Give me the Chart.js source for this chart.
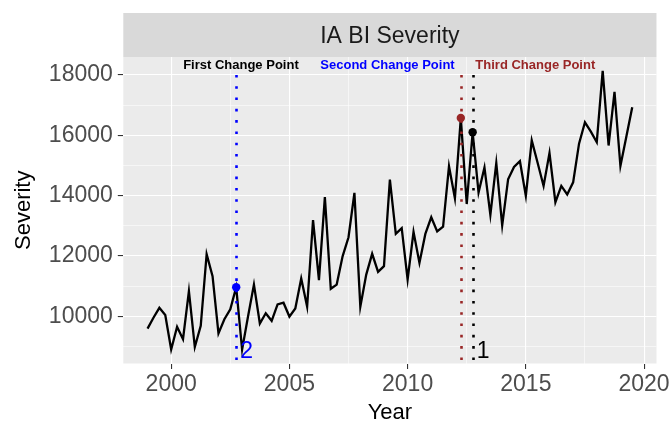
<!DOCTYPE html>
<html>
<head>
<meta charset="utf-8">
<script src="https://cdn.jsdelivr.net/npm/chart.js@4"></script>
<style>
  html, body { margin: 0; padding: 0; background: #ffffff; }
  #wrap { width: 672px; height: 426px; position: relative; }
</style>
</head>
<body>
<div id="wrap"><canvas id="chart"></canvas></div>
<script>
// quarterly IA BI severity
const years = [
  1999, 1999.25, 1999.5, 1999.75, 2000, 2000.25, 2000.5, 2000.75,
  2001, 2001.25, 2001.5, 2001.75, 2002, 2002.25, 2002.5, 2002.75,
  2003, 2003.25, 2003.5, 2003.75, 2004, 2004.25, 2004.5, 2004.75,
  2005, 2005.25, 2005.5, 2005.75, 2006, 2006.25, 2006.5, 2006.75,
  2007, 2007.25, 2007.5, 2007.75, 2008, 2008.25, 2008.5, 2008.75,
  2009, 2009.25, 2009.5, 2009.75, 2010, 2010.25, 2010.5, 2010.75,
  2011, 2011.25, 2011.5, 2011.75, 2012, 2012.25, 2012.5, 2012.75,
  2013, 2013.25, 2013.5, 2013.75, 2014, 2014.25, 2014.5, 2014.75,
  2015, 2015.25, 2015.5, 2015.75, 2016, 2016.25, 2016.5, 2016.75,
  2017, 2017.25, 2017.5, 2017.75, 2018, 2018.25, 2018.5, 2018.75,
  2019, 2019.25, 2019.5
];
const severity = [
  9590, 9950, 10280, 10040, 8900, 9650, 9240, 10830,
  8980, 9680, 12060, 11330, 9430, 9900, 10230, 10960,
  8895, 9990, 11050, 9760, 10100, 9850, 10395, 10450,
  9990, 10260, 11250, 10320, 13190, 11200, 13950, 10910,
  11050, 11985, 12620, 14090, 10320, 11380, 12070, 11470,
  11660, 14530, 12730, 12920, 11220, 12800, 11770, 12730,
  13280, 12810, 12970, 14970, 13910, 16570, 13720, 16100,
  14100, 14930, 13360, 15080, 13010, 14540, 14950, 15140,
  13990, 15830, 15080, 14320, 15410, 13780, 14320, 14040,
  14440, 15720, 16430, 16120, 15770, 18132, 15660, 17440,
  14980, 15950, 16925
];

// change points: first, second, third
const cpYears = [2012.75, 2002.75, 2012.25];
const cpValues = [16100, 10960, 16570];
const cpColors = ['#000000', '#0000ff', '#992626'];
const cpNumbers = ['1', '2', ''];
const cpTitles = ['First Change Point', 'Second Change Point', 'Third Change Point'];
const cpTitleX = [2002.95, 2009.15, 2015.4];
const cpTitleY = 18330;
const cpNumberY = 8865;
const vlineTop = 18000;

const xTicks = [2000, 2002.5, 2005, 2007.5, 2010, 2012.5, 2015, 2017.5, 2020];
const yTicks = [9000, 10000, 11000, 12000, 13000, 14000, 15000, 16000, 17000, 18000];

const FONT = '"Liberation Sans", Arial, sans-serif';

const ggPanel = {
  id: 'ggPanel',
  beforeDraw(chart) {
    const { ctx, chartArea: a } = chart;
    ctx.save();
    ctx.fillStyle = '#ebebeb';
    ctx.fillRect(a.left, a.top, a.right - a.left, a.bottom - a.top);
    // strip
    ctx.fillStyle = '#d9d9d9';
    ctx.fillRect(a.left, 13, a.right - a.left, a.top - 13);
    ctx.fillStyle = '#1a1a1a';
    ctx.font = '23px ' + FONT;
    ctx.textAlign = 'center';
    ctx.textBaseline = 'middle';
    ctx.fillText('IA BI Severity', (a.left + a.right) / 2, (13 + a.top) / 2 + 1.5);
    ctx.restore();
  },
  afterDatasetsDraw(chart) {
    const { ctx, chartArea: a, scales: { x, y } } = chart;
    ctx.save();
    ctx.beginPath();
    ctx.rect(a.left, a.top, a.right - a.left, a.bottom - a.top);
    ctx.clip();
    const top = y.getPixelForValue(vlineTop);
    cpYears.forEach((yr, i) => {
      const px = Math.round(x.getPixelForValue(yr)) + 0.5;
      ctx.strokeStyle = cpColors[i];
      ctx.lineWidth = 2.6;
      ctx.setLineDash([2.6, 8.7]);
      ctx.beginPath();
      ctx.moveTo(px, top);
      ctx.lineTo(px, a.bottom);
      ctx.stroke();
    });
    ctx.setLineDash([]);
    ctx.textBaseline = 'middle';
    cpTitles.forEach((t, i) => {
      ctx.fillStyle = cpColors[i];
      ctx.font = 'bold 13px ' + FONT;
      ctx.textAlign = 'center';
      ctx.fillText(t, x.getPixelForValue(cpTitleX[i]), y.getPixelForValue(cpTitleY));
    });
    cpNumbers.forEach((n, i) => {
      if (!n) return;
      ctx.fillStyle = cpColors[i];
      ctx.font = '23px ' + FONT;
      ctx.textAlign = 'left';
      ctx.fillText(n, x.getPixelForValue(cpYears[i]) + 4, y.getPixelForValue(cpNumberY) + 1.5);
    });
    ctx.restore();
  }
};

new Chart(document.getElementById('chart'), {
  type: 'line',
  data: {
    datasets: [
      {
        data: years.map((yr, i) => ({ x: yr, y: severity[i] })),
        borderColor: '#000000',
        borderWidth: 2.3,
        pointRadius: 0,
        tension: 0,
        order: 2
      },
      {
        data: cpYears.map((yr, i) => ({ x: yr, y: cpValues[i] })),
        showLine: false,
        pointRadius: 4.2,
        pointBackgroundColor: cpColors,
        pointBorderColor: cpColors,
        pointBorderWidth: 0,
        order: 1
      }
    ]
  },
  options: {
    responsive: true,
    maintainAspectRatio: false,
    animation: false,
    layout: { padding: { top: 57, right: 15.3, left: 0, bottom: 0 } },
    plugins: { legend: { display: false }, tooltip: { enabled: false } },
    scales: {
      x: {
        type: 'linear',
        min: 1997.975,
        max: 2020.525,
        afterBuildTicks: s => { s.ticks = xTicks.map(v => ({ value: v })); },
        afterFit: s => { s.height = 62.5; },
        border: { display: false },
        grid: {
          color: '#ffffff',
          lineWidth: c => (c.tick && c.tick.value % 5 === 0 ? 1.1 : 0.55),
          tickColor: c => (c.tick && c.tick.value % 5 === 0 ? '#333333' : 'rgba(0,0,0,0)'),
          tickWidth: 1.1,
          tickLength: 5.5,
          drawOnChartArea: true
        },
        ticks: {
          autoSkip: false,
          maxRotation: 0,
          color: '#4d4d4d',
          font: { family: FONT, size: 23 },
          padding: 2,
          callback: v => (v % 5 === 0 ? String(v) : '')
        },
        title: {
          display: true,
          text: 'Year',
          color: '#000000',
          font: { family: FONT, size: 22 },
          padding: { top: 0, bottom: 0 }
        }
      },
      y: {
        type: 'linear',
        min: 8434,
        max: 18594,
        afterBuildTicks: s => { s.ticks = yTicks.map(v => ({ value: v })); },
        afterFit: s => { s.width = 123.3; },
        border: { display: false },
        grid: {
          color: '#ffffff',
          lineWidth: c => (c.tick && c.tick.value % 2000 === 0 ? 1.1 : 0.55),
          tickColor: c => (c.tick && c.tick.value % 2000 === 0 ? '#333333' : 'rgba(0,0,0,0)'),
          tickWidth: 1.1,
          tickLength: 5.5
        },
        ticks: {
          autoSkip: false,
          color: '#4d4d4d',
          font: { family: FONT, size: 23 },
          padding: 5,
          callback: v => (v % 2000 === 0 ? String(v) : '')
        },
        title: {
          display: true,
          text: 'Severity',
          color: '#000000',
          font: { family: FONT, size: 22 },
          padding: { top: 11, bottom: 0 }
        }
      }
    }
  },
  plugins: [ggPanel]
});
</script>
</body>
</html>
